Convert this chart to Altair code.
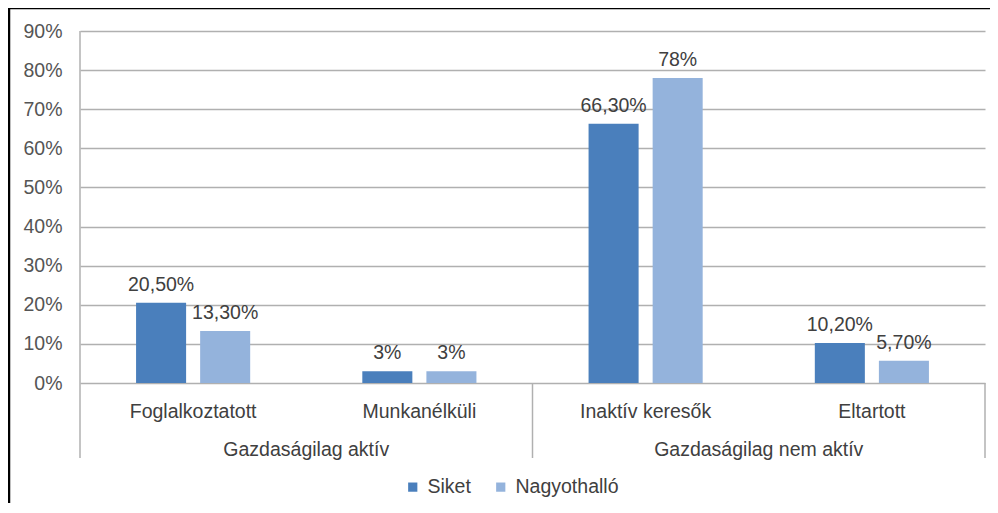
import altair as alt
import pandas as pd

categories = ["Foglalkoztatott", "Munkanélküli", "Inaktív keresők", "Eltartott"]
groups = ["Gazdaságilag aktív", "Gazdaságilag aktív", "Gazdaságilag nem aktív", "Gazdaságilag nem aktív"]
series = ["Siket", "Nagyothalló"]
siket = [0.205, 0.03, 0.663, 0.102]
nagyothallo = [0.133, 0.03, 0.78, 0.057]
labels_siket = ["20,50%", "3%", "66,30%", "10,20%"]
labels_nagyothallo = ["13,30%", "3%", "78%", "5,70%"]
y_ticks = [0, 0.1, 0.2, 0.3, 0.4, 0.5, 0.6, 0.7, 0.8, 0.9]
colors = ["#4a7fbc", "#94b3dc"]

FONT = "Liberation Sans"
FS = 19.5
TXT = "#404040"
GRID = "#b0b0b0"
W, H = 905, 352

rows = []
for i, c in enumerate(categories):
    rows.append({"cat": c, "series": series[0], "value": siket[i], "label": labels_siket[i]})
    rows.append({"cat": c, "series": series[1], "value": nagyothallo[i], "label": labels_nagyothallo[i]})
df = pd.DataFrame(rows)

x_scale = alt.Scale(domain=categories, paddingInner=0, paddingOuter=0)
xo_scale = alt.Scale(domain=series, paddingInner=0.219, paddingOuter=0.875)
y_scale = alt.Scale(domain=[0, 0.9], nice=False)

x_axis = alt.Axis(title=None, domain=False, ticks=False, labelAngle=0,
                  labelAlign="center", bandPosition=0.5,
                  labelPadding=19, labelFont=FONT, labelFontSize=FS,
                  labelColor=TXT, grid=False)
y_axis = alt.Axis(title=None, values=y_ticks, format=".0%", domain=False,
                  ticks=False, labelPadding=18, labelFont=FONT,
                  labelFontSize=FS, labelColor="#555555", grid=True,
                  labelOverlap=False, tickCount=10,
                  gridColor=GRID, gridWidth=1.5)

base = alt.Chart(df)

bars = base.mark_bar().encode(
    x=alt.X("cat:N", scale=x_scale, sort=categories, axis=x_axis),
    xOffset=alt.XOffset("series:N", scale=xo_scale, sort=series),
    y=alt.Y("value:Q", scale=y_scale, axis=y_axis),
    color=alt.Color("series:N", sort=series,
                    scale=alt.Scale(domain=series, range=colors),
                    legend=alt.Legend(title=None, orient="none", direction="horizontal",
                                      legendX=323, legendY=446, symbolType="square",
                                      symbolSize=85, symbolStrokeWidth=0,
                                      labelFont=FONT, labelFontSize=FS,
                                      labelColor=TXT, labelOffset=5,
                                      columnPadding=20)),
)

texts = base.mark_text(font=FONT, fontSize=FS, color=TXT, baseline="alphabetic", dy=-12).encode(
    x=alt.X("cat:N", scale=x_scale, sort=categories, axis=x_axis),
    xOffset=alt.XOffset("series:N", scale=xo_scale, sort=series),
    y=alt.Y("value:Q", scale=y_scale, axis=y_axis),
    text="label:N",
)

gdf = pd.DataFrame({"cat": [categories[0], categories[2]], "group": [groups[0], groups[2]]})
group_text = alt.Chart(gdf).mark_text(font=FONT, fontSize=FS, color=TXT, baseline="alphabetic").encode(
    x=alt.X("cat:N", scale=x_scale, sort=categories, bandPosition=1, axis=x_axis),
    y=alt.value(424.5),
    text="group:N",
)

div_mid = pd.DataFrame({"cat": [categories[2]]})
divider_mid = alt.Chart(div_mid).mark_rule(color=GRID, strokeWidth=1.5).encode(
    x=alt.X("cat:N", scale=x_scale, sort=categories, bandPosition=0, axis=x_axis),
    y=alt.value(H),
    y2=alt.value(427),
)
div_end = pd.DataFrame({"cat": [categories[3]]})
divider_end = alt.Chart(div_end).mark_rule(color=GRID, strokeWidth=1.5).encode(
    x=alt.X("cat:N", scale=x_scale, sort=categories, bandPosition=1, axis=x_axis),
    y=alt.value(H),
    y2=alt.value(427),
)

one = alt.Data(values=[{}])
left_axis = alt.Chart(one).mark_rule(color=GRID, strokeWidth=1.5).encode(
    x=alt.value(0), y=alt.value(0), y2=alt.value(427))
border_left = alt.Chart(one).mark_rule(color="black", strokeWidth=2.5, clip=False).encode(
    x=alt.value(-71), y=alt.value(-24), y2=alt.value(500))
border_top = alt.Chart(one).mark_rule(color="black", strokeWidth=2.5, clip=False).encode(
    x=alt.value(-72), x2=alt.value(912), y=alt.value(-23))

chart = alt.layer(
    bars, texts, group_text, divider_mid, divider_end, left_axis, border_left, border_top
).properties(
    width=W, height=H,
    autosize=alt.AutoSizeParams(type="none"),
    padding={"left": 72, "top": 23, "right": 5, "bottom": 120},
    background="white",
).configure_view(stroke=None)

chart.save("out.html", embed_options={"renderer": "svg", "actions": False})
